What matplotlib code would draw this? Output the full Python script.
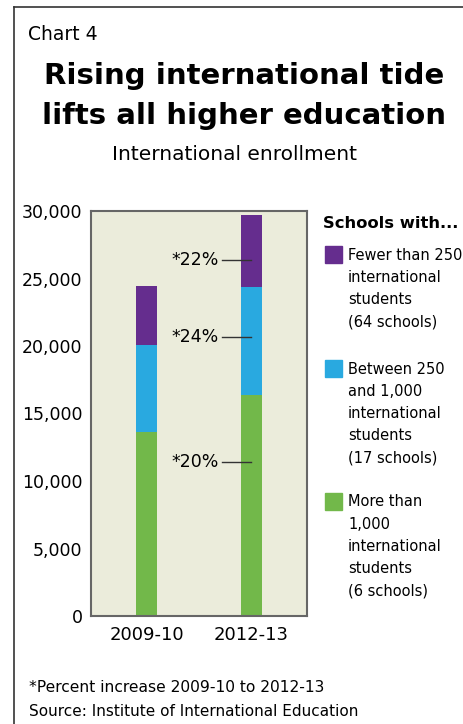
import matplotlib
matplotlib.use("Agg")
import matplotlib.pyplot as plt
from matplotlib.lines import Line2D

plt.rcParams['font.family'] = ['DejaVu Sans']

years = ["2009-10", "2012-13"]
large = [13650, 16380]      # more than 1,000 international students
mid = [6420, 7960]          # between 250 and 1,000
small = [4370, 5330]        # fewer than 250
increase = ["*20%", "*24%", "*22%"]
increase_y = [11400, 20700, 26400]
yticks = [0, 5000, 10000, 15000, 20000, 25000, 30000]

GREEN = "#72b84a"
BLUE = "#29a9e0"
PURPLE = "#652d8e"
PANEL = "#ebecdb"

W, H = 464, 724


def fx(px):
    return px / W


def fy(py):
    return 1 - py / H


fig = plt.figure(figsize=(W / 100, H / 100), dpi=100)
fig.patch.set_facecolor("white")

# frame lines along top and left edge
fig.add_artist(Line2D([fx(14), fx(14)], [fy(7), 0], color="#333333", lw=1.2))
fig.add_artist(Line2D([fx(14), 1], [fy(7), fy(7)], color="#333333", lw=1.2))

fig.text(fx(28), fy(34), "Chart 4", fontsize=13.5, va="center", ha="left")
fig.text(fx(244), fy(76), "Rising international tide", fontsize=21,
         fontweight="bold", ha="center", va="center")
fig.text(fx(244), fy(116), "lifts all higher education", fontsize=21,
         fontweight="bold", ha="center", va="center")
fig.text(fx(235), fy(155), "International enrollment", fontsize=14.5,
         ha="center", va="center")

ax = fig.add_axes([fx(91), fy(616), (307 - 91) / W, (616 - 211) / H])
ax.set_facecolor(PANEL)
x = [0, 1]
w = 0.2
ax.bar(x, large, w, color=GREEN)
ax.bar(x, mid, w, bottom=large, color=BLUE)
ax.bar(x, small, w, bottom=[a + b for a, b in zip(large, mid)], color=PURPLE)

for lab, yv in zip(increase, increase_y):
    ax.plot([0.72, 1.0], [yv, yv], color="#333333", lw=1.0)
    ax.text(0.69, yv, lab, ha="right", va="center", fontsize=12.5)

ax.set_xlim(-0.53, 1.53)
ax.set_ylim(0, 30000)
ax.set_yticks(yticks)
ax.set_yticklabels([f"{t:,}" for t in yticks])
ax.set_xticks(x)
ax.set_xticklabels(years)
ax.tick_params(axis="both", length=0, labelsize=12.5)
ax.tick_params(axis="x", labelsize=13, pad=7)
ax.tick_params(axis="y", pad=6)
for s in ax.spines.values():
    s.set_color("#666666")
    s.set_linewidth(1.5)

# legend
fig.text(fx(323), fy(224), "Schools with...", fontsize=11.8,
         fontweight="bold", ha="left", va="center")
entries = [
    (PURPLE, ["Fewer than 250", "international", "students", "(64 schools)"], 255),
    (BLUE, ["Between 250", "and 1,000", "international", "students",
            "(17 schools)"], 369),
    (GREEN, ["More than", "1,000", "international", "students",
             "(6 schools)"], 502),
]
for color, lines, top in entries:
    fig.add_artist(plt.Rectangle((fx(325), fy(top + 8)), 17 / W, 17 / H,
                                 color=color, transform=fig.transFigure))
    for i, line in enumerate(lines):
        fig.text(fx(348), fy(top + i * 22.3), line, fontsize=10.5,
                 ha="left", va="center")

fig.text(fx(29), fy(687), "*Percent increase 2009-10 to 2012-13",
         fontsize=11.2, ha="left", va="center")
fig.text(fx(29), fy(712), "Source: Institute of International Education",
         fontsize=11, ha="left", va="center")

fig.savefig("out.png", dpi=100)
